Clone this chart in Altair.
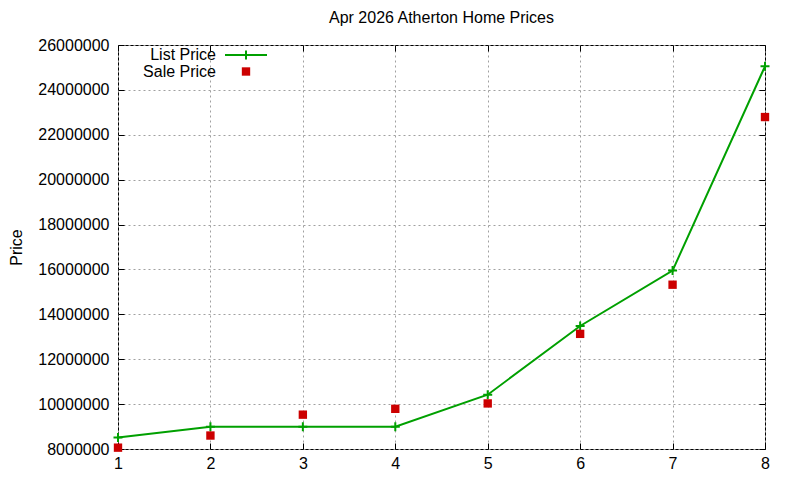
import altair as alt
import pandas as pd

# ---- data ----
months = [1, 2, 3, 4, 5, 6, 7, 8]
list_price = [8510000, 8995000, 8995000, 8995000, 10420000, 13480000, 15950000, 25050000]
sale_price = [8060000, 8600000, 9530000, 9790000, 10030000, 13130000, 15320000, 22790000]
y_ticks = [8000000, 10000000, 12000000, 14000000, 16000000, 18000000,
           20000000, 22000000, 24000000, 26000000]
series_names = ["List Price", "Sale Price"]
chart_title = "Apr 2026 Atherton Home Prices"
y_title = "Price"

GREEN = "#00a000"
RED = "#cc0000"
FONT = "Liberation Sans"
FS = 16

df = pd.DataFrame({"month": months, "list": list_price, "sale": sale_price})

xscale = alt.Scale(domain=[1, 8], nice=False, zero=False)
yscale = alt.Scale(domain=[8000000, 26000000], nice=False, zero=False)

grid_kw = dict(grid=True, gridDash=[2, 3], gridColor="#a0a0a0", gridWidth=1)

x_axis = alt.Axis(orient="bottom", values=months, format="d", offset=-6, tickSize=6,
                  domain=False, tickColor="black", labelPadding=6, labelFont=FONT,
                  labelFontSize=FS, labelColor="black", labelFlush=False,
                  labelOverlap=False, title=None, **grid_kw)
y_axis = alt.Axis(orient="left", values=y_ticks, format="d", offset=-6, tickSize=6,
                  domain=False, tickColor="black", labelPadding=9, labelFont=FONT,
                  labelFontSize=FS, labelColor="black", labelFlush=False,
                  labelOverlap=False, title=y_title, titleFont=FONT, titleFontSize=FS,
                  titleFontWeight="normal", titleColor="black", titlePadding=13,
                  **grid_kw)

base = alt.Chart(df)

line = base.mark_line(color=GREEN, strokeWidth=2).encode(
    x=alt.X("month:Q", scale=xscale, axis=x_axis),
    y=alt.Y("list:Q", scale=yscale, axis=y_axis),
)
PLUS = "M-1,0L1,0M0,-1L0,1"
plus = base.mark_point(shape=PLUS, filled=False, color=GREEN, strokeWidth=2, size=81,
                       opacity=1).encode(
    x=alt.X("month:Q", scale=xscale),
    y=alt.Y("list:Q", scale=yscale),
)
squares = base.mark_point(shape="square", filled=True, color=RED, size=70,
                          opacity=1).encode(
    x=alt.X("month:Q", scale=xscale),
    y=alt.Y("sale:Q", scale=yscale),
)

# ---- legend (gnuplot style: label left of sample) ----
leg = alt.Chart(pd.DataFrame({"name": series_names}))
leg_list_text = leg.transform_filter(alt.datum.name == series_names[0]).mark_text(
    align="right", baseline="middle", font=FONT, fontSize=FS, color="black").encode(
    text="name:N", x=alt.value(98), y=alt.value(10))
leg_sale_text = leg.transform_filter(alt.datum.name == series_names[1]).mark_text(
    align="right", baseline="middle", font=FONT, fontSize=FS, color="black").encode(
    text="name:N", x=alt.value(98), y=alt.value(26.5))
leg_line = leg.transform_filter(alt.datum.name == series_names[0]).mark_rule(
    color=GREEN, strokeWidth=2).encode(x=alt.value(107), x2=alt.value(149), y=alt.value(10))
leg_plus = leg.transform_filter(alt.datum.name == series_names[0]).mark_point(
    shape=PLUS, filled=False, color=GREEN, strokeWidth=2, size=81, opacity=1).encode(
    x=alt.value(128), y=alt.value(10))
leg_square = leg.transform_filter(alt.datum.name == series_names[1]).mark_point(
    shape="square", filled=True, color=RED, size=70, opacity=1).encode(
    x=alt.value(128), y=alt.value(26.5))

main = alt.layer(line, plus, squares, leg_list_text, leg_sale_text, leg_line, leg_plus,
                 leg_square)

# ---- mirror ticks on top/right (inward) ----
mirror = base.mark_point(opacity=0).encode(
    x=alt.X("month:Q", scale=xscale,
            axis=alt.Axis(orient="top", values=months, offset=-6, tickSize=6, domain=False,
                          labels=False, grid=False, tickColor="black", title=None)),
    y=alt.Y("list:Q", scale=yscale,
            axis=alt.Axis(orient="right", values=y_ticks, offset=-6, tickSize=6,
                          domain=False, labels=False, grid=False, tickColor="black",
                          title=None)),
)

chart = alt.layer(main, mirror).resolve_scale(x="independent", y="independent").properties(
    width=647,
    height=404,
    title=alt.TitleParams(chart_title, font=FONT, fontSize=FS, fontWeight="normal",
                          color="black", anchor="middle", offset=11),
    autosize=alt.AutoSizeParams(type="none"),
    padding={"left": 110, "top": 37, "right": 27, "bottom": 23},
    background="white",
).configure_view(stroke="black", strokeWidth=1)

chart.save("out.html", embed_options={"renderer": "svg", "actions": False})
